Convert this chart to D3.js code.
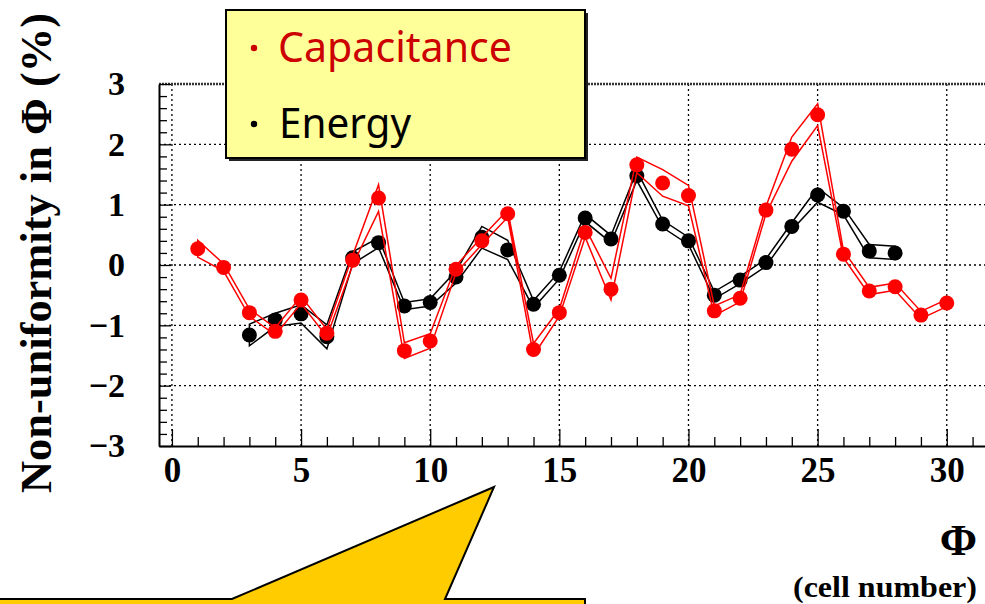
<!DOCTYPE html>
<html>
<head>
<meta charset="utf-8">
<script src="https://cdn.jsdelivr.net/npm/d3@7/dist/d3.min.js"></script>
<style>
  html, body { margin: 0; padding: 0; background: #fff; }
  svg { display: block; }
</style>
</head>
<body>
<svg id="chart" width="985" height="604"></svg>
<script>
// ---------- data ----------
const capCells = [1,2,3,4,5,6,7,8,9,10,11,12,13,14,15,16,17,18,19,20,21,22,23,24,25,26,27,28,29,30];
const capacitance = [0.27,-0.04,-0.79,-1.10,-0.58,-1.13,0.08,1.11,-1.42,-1.26,-0.07,0.40,0.85,-1.40,-0.79,0.54,-0.40,1.66,1.36,1.15,-0.76,-0.55,0.91,1.92,2.49,0.18,-0.43,-0.36,-0.83,-0.63];
const capErr = [0.14,0.06,0.06,0.06,0.06,0.06,0.08,0.22,0.13,0.12,0.06,0.06,0.06,0.10,0.06,0.08,0.18,0.13,0.22,0.17,0.08,0.06,0.06,0.20,0.18,0.06,0.06,0.06,0.06,0.06];

const energyCells = [3,4,5,6,7,8,9,10,11,12,13,14,15,16,17,18,19,20,21,22,23,24,25,26,27,28];
const energy = [-1.16,-0.91,-0.81,-1.19,0.12,0.37,-0.68,-0.62,-0.20,0.46,0.25,-0.65,-0.17,0.78,0.43,1.48,0.68,0.40,-0.50,-0.25,0.04,0.64,1.16,0.89,0.23,0.20];
const energyErr = [0.18,0.11,0.15,0.20,0.10,0.08,0.06,0.06,0.10,0.18,0.16,0.06,0.06,0.06,0.06,0.08,0.06,0.06,0.06,0.06,0.06,0.06,0.12,0.06,0.11,0.11];

const xMajorTicks = [0,5,10,15,20,25,30];
const yMajorTicks = [-3,-2,-1,0,1,2,3];
const legendLabels = ["Capacitance", "Energy"];
const yTitle = "Non-uniformity in \u03A6 (%)";
const xTitle = "\u03A6";
const xSubTitle = "(cell number)";

// ---------- layout ----------
const svg = d3.select("#chart");
const serif = "'Liberation Serif','Times New Roman',serif";
const x = d3.scaleLinear().domain([-0.5, 31.5]).range([159, 985.5]);
const y = d3.scaleLinear().domain([-3, 3]).range([446, 84]);

// grid
const grid = svg.append("g");
grid.selectAll("line.vg").data(xMajorTicks).join("line")
  .attr("x1", d => x(d)).attr("x2", d => x(d))
  .attr("y1", y(-3)).attr("y2", y(3))
  .attr("stroke", "#000").attr("stroke-width", 1.3).attr("stroke-dasharray", "2,3");
grid.selectAll("line.hg").data(yMajorTicks.filter(d => d > -3 && d < 3)).join("line")
  .attr("x1", x.range()[0]).attr("x2", x.range()[1])
  .attr("y1", d => y(d)).attr("y2", d => y(d))
  .attr("stroke", "#000").attr("stroke-width", 1.3).attr("stroke-dasharray", "2,3");
// top frame (dotted dark)
svg.append("line")
  .attr("x1", x.range()[0]).attr("x2", x.range()[1])
  .attr("y1", y(3)).attr("y2", y(3))
  .attr("stroke", "#333").attr("stroke-width", 2.4).attr("stroke-dasharray", "2,1");

// axes
const yMinor = d3.range(-3, 3.001, 0.2).map(v => +v.toFixed(1)).filter(v => !yMajorTicks.includes(v));
const xMinor = d3.range(0, 32, 1).filter(v => !xMajorTicks.includes(v));

const yAxisG = svg.append("g").attr("transform", `translate(${x.range()[0]},0)`);
yAxisG.call(d3.axisLeft(y).tickValues(yMajorTicks).tickSize(-12).tickSizeOuter(0).tickPadding(34).tickFormat(d3.format("d")));
yAxisG.append("g").call(d3.axisLeft(y).tickValues(yMinor).tickSize(-8).tickSizeOuter(0).tickFormat(""))
  .select(".domain").remove();

const xAxisG = svg.append("g").attr("transform", `translate(0,${y.range()[0]})`);
xAxisG.call(d3.axisBottom(x).tickValues(xMajorTicks).tickSize(-17).tickSizeOuter(0).tickPadding(11).tickFormat(d3.format("d")));
xAxisG.append("g").call(d3.axisBottom(x).tickValues(xMinor).tickSize(-9).tickSizeOuter(0).tickFormat(""))
  .select(".domain").remove();

svg.selectAll(".domain").attr("stroke", "#000").attr("stroke-width", 2);
svg.selectAll(".tick line").attr("stroke", "#000").attr("stroke-width", 1.3);
yAxisG.selectAll(".tick text").attr("font-family", serif).attr("font-weight", "bold").attr("font-size", 34).attr("fill", "#000");
xAxisG.selectAll(".tick text").attr("font-family", serif).attr("font-weight", "bold").attr("font-size", 35).attr("fill", "#000");

// series bands + markers
function drawSeries(cells, vals, errs, color) {
  const pts = cells.map((c, i) => ({c, v: vals[i], e: errs[i]}));
  const upper = pts.map(p => [x(p.c), y(p.v + p.e)]);
  const lower = pts.slice().reverse().map(p => [x(p.c), y(p.v - p.e)]);
  svg.append("path")
    .attr("d", d3.line()(upper.concat(lower)) + "Z")
    .attr("fill", "none").attr("stroke", color).attr("stroke-width", 1.5)
    .attr("stroke-linejoin", "miter");
  svg.append("g").selectAll("circle").data(pts).join("circle")
    .attr("cx", p => x(p.c)).attr("cy", p => y(p.v)).attr("r", 7.5)
    .attr("fill", color);
}
drawSeries(energyCells, energy, energyErr, "#000");
drawSeries(capCells, capacitance, capErr, "#ff0000");

// legend
const leg = svg.append("g");
leg.append("rect").attr("x", 229).attr("y", 13).attr("width", 359).attr("height", 148).attr("fill", "#222");
leg.append("rect").attr("x", 226).attr("y", 10).attr("width", 359).attr("height", 148)
  .attr("fill", "#ffff99").attr("stroke", "#000").attr("stroke-width", 2);
const legFont = "'Noto Sans','DejaVu Sans',sans-serif";
leg.append("circle").attr("cx", 254).attr("cy", 48).attr("r", 3.2).attr("fill", "#cc0000");
leg.append("text").attr("x", 278).attr("y", 62).text(legendLabels[0])
  .attr("font-family", legFont).attr("font-size", 42).attr("fill", "#cc0000")
  .attr("textLength", 234).attr("lengthAdjust", "spacingAndGlyphs");
leg.append("circle").attr("cx", 254).attr("cy", 124).attr("r", 3.2).attr("fill", "#000");
leg.append("text").attr("x", 279).attr("y", 138).text(legendLabels[1])
  .attr("font-family", legFont).attr("font-size", 42).attr("fill", "#000")
  .attr("textLength", 132).attr("lengthAdjust", "spacingAndGlyphs");

// axis titles
svg.append("text").attr("transform", "translate(51,493) rotate(-90)")
  .attr("text-anchor", "start").text(yTitle)
  .attr("font-family", serif).attr("font-weight", "bold").attr("font-size", 44)
  .attr("textLength", 480).attr("lengthAdjust", "spacingAndGlyphs");
svg.append("text").attr("x", 977).attr("y", 555).attr("text-anchor", "end").text(xTitle)
  .attr("font-family", serif).attr("font-weight", "bold").attr("font-size", 45);
svg.append("text").attr("x", 977).attr("y", 597).attr("text-anchor", "end").text(xSubTitle)
  .attr("font-family", serif).attr("font-weight", "bold").attr("font-size", 30)
  .attr("textLength", 184).attr("lengthAdjust", "spacingAndGlyphs");

// callout shape at bottom
svg.append("path")
  .attr("d", "M-5,599 L232,599 L494,487 L445,599 L585,599 L585,612 L-5,612 Z")
  .attr("fill", "#ffcc00").attr("stroke", "#000").attr("stroke-width", 2).attr("stroke-linejoin", "miter");
</script>
</body>
</html>
